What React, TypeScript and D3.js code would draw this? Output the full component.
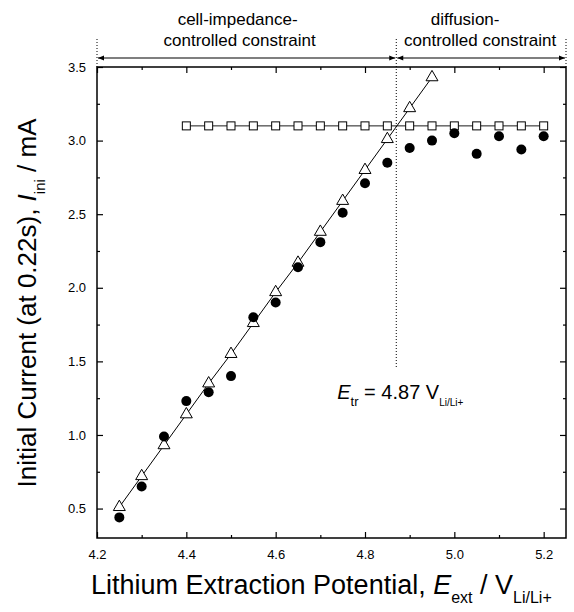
import React, { useEffect, useRef } from 'react';
import * as d3 from 'd3';

// open triangles (fitted line goes through them)
const triPotential = [4.25, 4.3, 4.35, 4.4, 4.45, 4.5, 4.55, 4.6, 4.65, 4.7, 4.75, 4.8, 4.85, 4.9, 4.95];
const triCurrent = [0.51, 0.72, 0.93, 1.14, 1.35, 1.55, 1.76, 1.97, 2.17, 2.38, 2.59, 2.8, 3.01, 3.22, 3.43];

// open squares, diffusion limit
const sqPotential = [4.4, 4.45, 4.5, 4.55, 4.6, 4.65, 4.7, 4.75, 4.8, 4.85, 4.9, 4.95, 5.0, 5.05, 5.1, 5.15, 5.2];
const sqCurrent = [3.1, 3.1, 3.1, 3.1, 3.1, 3.1, 3.1, 3.1, 3.1, 3.1, 3.1, 3.1, 3.1, 3.1, 3.1, 3.1, 3.1];

// filled circles, measured
const dotPotential = [4.25, 4.3, 4.35, 4.4, 4.45, 4.5, 4.55, 4.6, 4.65, 4.7, 4.75, 4.8, 4.85, 4.9, 4.95, 5.0, 5.05, 5.1, 5.15, 5.2];
const dotCurrent = [0.44, 0.65, 0.99, 1.23, 1.29, 1.4, 1.8, 1.9, 2.14, 2.31, 2.51, 2.71, 2.85, 2.95, 3.0, 3.05, 2.91, 3.03, 2.94, 3.03];

const xTicks = [4.2, 4.4, 4.6, 4.8, 5.0, 5.2];
const xMinorTicks = [4.3, 4.5, 4.7, 4.9, 5.1];
const yTicks = [0.5, 1.0, 1.5, 2.0, 2.5, 3.0, 3.5];
const yMinorTicks = [0.75, 1.25, 1.75, 2.25, 2.75, 3.25];

const transitionPotential = 4.87;

const FONT = "'Liberation Sans', Arial, sans-serif";

const App: React.FC = () => {
  const svgRef = useRef<SVGSVGElement>(null);

  useEffect(() => {
    if (!svgRef.current) return;
    const svg = d3.select(svgRef.current);
    svg.selectAll("*").remove();

    const width = 574;
    const height = 612;
    const margin = { top: 67, right: 8, bottom: 74, left: 97 };
    const w = width - margin.left - margin.right;
    const h = height - margin.top - margin.bottom;

    const x = d3.scaleLinear().domain([4.2, 5.25]).range([0, w]);
    const y = d3.scaleLinear().domain([0.3, 3.5]).range([h, 0]);

    svg.style("font-family", FONT);

    const defs = svg.append("defs");
    ["start", "end"].forEach(k => {
      defs.append("marker")
        .attr("id", `arrow-${k}`)
        .attr("viewBox", "0 0 10 10")
        .attr("refX", k === "end" ? 10 : 0)
        .attr("refY", 5)
        .attr("markerWidth", 9)
        .attr("markerHeight", 6)
        .attr("markerUnits", "userSpaceOnUse")
        .attr("orient", "auto")
        .append("path")
        .attr("d", k === "end" ? "M0,1 L10,5 L0,9 Z" : "M10,1 L0,5 L10,9 Z")
        .attr("fill", "#000");
    });

    const g = svg.append("g")
      .attr("transform", `translate(${margin.left},${margin.top})`);

    // axes, ticks inward on all four sides
    const styleAxis = (sel: d3.Selection<SVGGElement, unknown, null, undefined>) => {
      sel.select(".domain").remove();
      sel.selectAll("line").attr("stroke", "#000").attr("stroke-width", 1.2);
      sel.selectAll("text").style("font-family", FONT).style("font-size", "13px").attr("fill", "#000");
    };

    g.append("g").attr("transform", `translate(0,${h})`)
      .call(d3.axisBottom(x).tickValues(xTicks).tickSize(-6).tickSizeOuter(0).tickPadding(12).tickFormat(d3.format(".1f")))
      .call(styleAxis);
    g.append("g").attr("transform", `translate(0,${h})`)
      .call(d3.axisBottom(x).tickValues(xMinorTicks).tickSize(-3).tickSizeOuter(0).tickFormat(() => ""))
      .call(styleAxis);
    g.append("g")
      .call(d3.axisTop(x).tickValues(xTicks).tickSize(-6).tickSizeOuter(0).tickFormat(() => ""))
      .call(styleAxis);
    g.append("g")
      .call(d3.axisTop(x).tickValues(xMinorTicks).tickSize(-3).tickSizeOuter(0).tickFormat(() => ""))
      .call(styleAxis);

    g.append("g")
      .call(d3.axisLeft(y).tickValues(yTicks).tickSize(-6).tickSizeOuter(0).tickPadding(11).tickFormat(d3.format(".1f")))
      .call(styleAxis);
    g.append("g")
      .call(d3.axisLeft(y).tickValues(yMinorTicks).tickSize(-3).tickSizeOuter(0).tickFormat(() => ""))
      .call(styleAxis);
    g.append("g").attr("transform", `translate(${w},0)`)
      .call(d3.axisRight(y).tickValues(yTicks).tickSize(-6).tickSizeOuter(0).tickFormat(() => ""))
      .call(styleAxis);
    g.append("g").attr("transform", `translate(${w},0)`)
      .call(d3.axisRight(y).tickValues(yMinorTicks).tickSize(-3).tickSizeOuter(0).tickFormat(() => ""))
      .call(styleAxis);

    g.append("rect")
      .attr("width", w)
      .attr("height", h)
      .attr("fill", "none")
      .attr("stroke", "#000")
      .attr("stroke-width", 1.5);

    // dotted boundaries
    const xt = x(transitionPotential);
    const dotted = [
      { px: 0, y2: 0 },
      { px: xt, y2: 300 },
      { px: w, y2: 0 },
    ];
    dotted.forEach(d => {
      g.append("line")
        .attr("x1", d.px).attr("x2", d.px)
        .attr("y1", -28).attr("y2", d.y2)
        .attr("stroke", "#000")
        .attr("stroke-width", 1)
        .attr("stroke-dasharray", "1,2");
    });

    // double arrows
    [[0, xt], [xt, w]].forEach(([a, b]) => {
      g.append("line")
        .attr("x1", a + 1).attr("x2", b - 1)
        .attr("y1", -9).attr("y2", -9)
        .attr("stroke", "#000")
        .attr("stroke-width", 1.2)
        .attr("marker-start", "url(#arrow-start)")
        .attr("marker-end", "url(#arrow-end)");
    });

    const regionLabel = (cx: number[], lines: string[]) => {
      lines.forEach((t, i) => {
        g.append("text")
          .attr("x", cx[i])
          .attr("y", -42 + i * 21)
          .attr("text-anchor", "middle")
          .style("font-size", "17px")
          .attr("fill", "#000")
          .text(t);
      });
    };
    regionLabel([xt / 2 - 9, xt / 2 - 7], ["cell-impedance-", "controlled constraint"]);
    regionLabel([(xt + w) / 2 - 16, (xt + w) / 2 - 1], ["diffusion-", "controlled constraint"]);

    // lines
    const triData = triPotential.map((p, i) => [p, triCurrent[i]] as [number, number]);
    const sqData = sqPotential.map((p, i) => [p, sqCurrent[i]] as [number, number]);
    const dotData = dotPotential.map((p, i) => [p, dotCurrent[i]] as [number, number]);

    const line = d3.line<[number, number]>().x(d => x(d[0])).y(d => y(d[1]));

    g.append("path")
      .datum(triData)
      .attr("d", line)
      .attr("fill", "none")
      .attr("stroke", "#000")
      .attr("stroke-width", 1);

    g.append("path")
      .datum(sqData)
      .attr("d", line)
      .attr("fill", "none")
      .attr("stroke", "#000")
      .attr("stroke-width", 0.9);

    // markers
    g.selectAll(".sq")
      .data(sqData)
      .enter()
      .append("rect")
      .attr("x", d => x(d[0]) - 4)
      .attr("y", d => y(d[1]) - 4)
      .attr("width", 8)
      .attr("height", 8)
      .attr("fill", "#fff")
      .attr("stroke", "#000")
      .attr("stroke-width", 1);

    const tri = d3.symbol().type(d3.symbolTriangle).size(62);
    g.selectAll(".tri")
      .data(triData)
      .enter()
      .append("path")
      .attr("d", tri)
      .attr("transform", d => `translate(${x(d[0])},${y(d[1])})`)
      .attr("fill", "#fff")
      .attr("stroke", "#000")
      .attr("stroke-width", 1);

    g.selectAll(".dot")
      .data(dotData)
      .enter()
      .append("circle")
      .attr("cx", d => x(d[0]))
      .attr("cy", d => y(d[1]))
      .attr("r", 5)
      .attr("fill", "#000");

    // E_tr annotation
    const ann = g.append("text")
      .attr("x", xt - 59)
      .attr("y", 332)
      .style("font-size", "20px")
      .attr("fill", "#000");
    ann.append("tspan").style("font-style", "italic").text("E");
    ann.append("tspan").attr("dy", 7).style("font-size", "13px").text("tr");
    ann.append("tspan").attr("dy", -7).text(" = 4.87 V");
    ann.append("tspan").attr("dy", 7).style("font-size", "10px").text("Li/Li+");

    // axis titles
    const xl = svg.append("text")
      .attr("x", 91)
      .attr("y", 594)
      .style("font-size", "27px")
      .attr("fill", "#000");
    xl.append("tspan").text("Lithium Extraction Potential, ");
    xl.append("tspan").style("font-style", "italic").text("E");
    xl.append("tspan").attr("dy", 9).style("font-size", "16px").text("ext");
    xl.append("tspan").attr("dy", -9).text(" / V");
    xl.append("tspan").attr("dy", 9).style("font-size", "16px").text("Li/Li+");

    const yl = svg.append("text")
      .attr("transform", "translate(36,303) rotate(-90)")
      .attr("text-anchor", "middle")
      .style("font-size", "26px")
      .attr("fill", "#000");
    yl.append("tspan").text("Initial Current (at 0.22s), ");
    yl.append("tspan").style("font-style", "italic").text("I");
    yl.append("tspan").attr("dy", 9).style("font-size", "15px").text("ini");
    yl.append("tspan").attr("dy", -9).text(" / mA");
  }, []);

  return (
    <div style={{ position: 'absolute', left: 0, top: 0, width: 574, height: 612, background: '#fff' }}>
      <svg ref={svgRef} width="574" height="612" />
    </div>
  );
};

export default App;
